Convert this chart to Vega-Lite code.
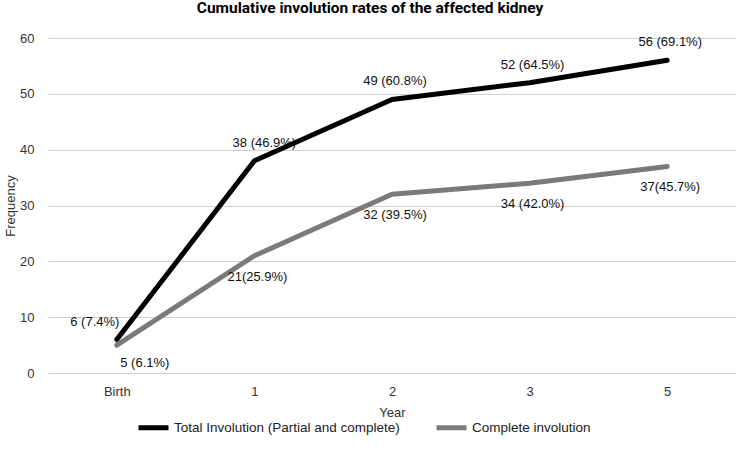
{
  "$schema": "https://vega.github.io/schema/vega-lite/v6.json",
  "autosize": "none",
  "width": 688,
  "height": 335,
  "padding": {"left": 48, "top": 38, "right": 8, "bottom": 91},
  "background": "white",
  "title": {"text": "Cumulative involution rates of the affected kidney", "font": "Roboto", "fontSize": 15.5, "fontWeight": "bold", "color": "#000000", "anchor": "middle", "dx": -22, "offset": 16},
  "config": {"view": {"stroke": null}, "font": "Liberation Sans"},
  "data": {"values": [
    {"year": "Birth", "series": "Total Involution (Partial and complete)", "freq": 6, "label": "6 (7.4%)"},
    {"year": "1", "series": "Total Involution (Partial and complete)", "freq": 38, "label": "38 (46.9%)"},
    {"year": "2", "series": "Total Involution (Partial and complete)", "freq": 49, "label": "49 (60.8%)"},
    {"year": "3", "series": "Total Involution (Partial and complete)", "freq": 52, "label": "52 (64.5%)"},
    {"year": "5", "series": "Total Involution (Partial and complete)", "freq": 56, "label": "56 (69.1%)"},
    {"year": "Birth", "series": "Complete involution", "freq": 5, "label": "5 (6.1%)"},
    {"year": "1", "series": "Complete involution", "freq": 21, "label": "21(25.9%)"},
    {"year": "2", "series": "Complete involution", "freq": 32, "label": "32   (39.5%)"},
    {"year": "3", "series": "Complete involution", "freq": 34, "label": "34 (42.0%)"},
    {"year": "5", "series": "Complete involution", "freq": 37, "label": "37(45.7%)"}
  ]},
  "encoding": {
    "x": {"field": "year", "type": "ordinal", "sort": ["Birth", "1", "2", "3", "5"],
      "scale": {"type": "point", "padding": 0.5},
      "axis": {"title": "Year", "titleFont": "Liberation Sans", "titleFontSize": 13, "titleFontWeight": "normal", "titleColor": "#333", "titlePadding": 8,
        "labelFontSize": 13, "labelColor": "#333", "labelPadding": 12, "labelAngle": 0, "ticks": false, "domain": false}},
    "y": {"field": "freq", "type": "quantitative",
      "scale": {"domain": [0, 60]},
      "axis": {"title": "Frequency", "titleFontSize": 13, "titleFontWeight": "normal", "titleColor": "#333", "titlePadding": 2,
        "labelFontSize": 13, "labelColor": "#333", "labelPadding": 14, "values": [0, 10, 20, 30, 40, 50, 60],
        "ticks": false, "domain": false, "gridColor": "#d0d0d0", "gridWidth": 1.2}}
  },
  "layer": [
    {
      "mark": {"type": "line", "strokeWidth": 5, "strokeCap": "round", "strokeJoin": "round"},
      "encoding": {
        "color": {"field": "series", "type": "nominal",
          "scale": {"domain": ["Total Involution (Partial and complete)", "Complete involution"], "range": ["#000000", "#7a7a7a"]},
          "legend": {"title": null, "orient": "none", "direction": "horizontal", "legendX": 88, "legendY": 372,
            "symbolType": "stroke", "symbolStrokeWidth": 5, "symbolSize": 900, "labelFontSize": 13.5, "labelColor": "#222",
            "columnPadding": 26, "labelOffset": 3, "labelLimit": 400}}
      }
    },
    {
      "transform": [{"filter": "datum.series == 'Total Involution (Partial and complete)' && datum.year != 'Birth' && datum.year != '1'"}],
      "mark": {"type": "text", "dy": -18, "dx": 3, "fontSize": 13, "color": "#111"},
      "encoding": {"text": {"field": "label"}}
    },
    {
      "transform": [{"filter": "datum.series == 'Total Involution (Partial and complete)' && datum.year == '1'"}],
      "mark": {"type": "text", "dy": -18, "dx": 10, "fontSize": 13, "color": "#111"},
      "encoding": {"text": {"field": "label"}}
    },
    {
      "transform": [{"filter": "datum.series == 'Total Involution (Partial and complete)' && datum.year == 'Birth'"}],
      "mark": {"type": "text", "dy": -18, "dx": -22, "fontSize": 13, "color": "#111"},
      "encoding": {"text": {"field": "label"}}
    },
    {
      "transform": [{"filter": "datum.series == 'Complete involution' && datum.year != 'Birth'"}],
      "mark": {"type": "text", "dy": 21, "dx": 3, "fontSize": 13, "color": "#111"},
      "encoding": {"text": {"field": "label"}}
    },
    {
      "transform": [{"filter": "datum.series == 'Complete involution' && datum.year == 'Birth'"}],
      "mark": {"type": "text", "dy": 18, "dx": 28, "fontSize": 13, "color": "#111"},
      "encoding": {"text": {"field": "label"}}
    }
  ]
}
